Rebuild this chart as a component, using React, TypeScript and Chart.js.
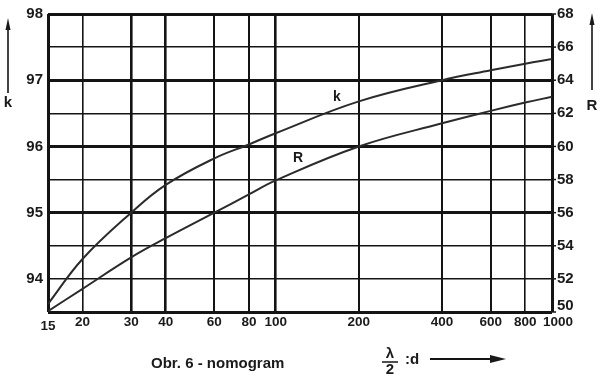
import React, { useEffect, useRef } from "react";
import { Chart, registerables } from "chart.js";

Chart.register(...registerables);

const xTicks = [15, 20, 30, 40, 60, 80, 100, 200, 400, 600, 800, 1000];
const xValues = [15, 20, 30, 40, 60, 80, 100, 200, 400, 600, 800, 1000];
const kValues = [93.62, 94.3, 95.0, 95.42, 95.82, 96.03, 96.2, 96.68, 97.0, 97.15, 97.25, 97.32];
const rValues = [50.05, 51.4, 53.3, 54.46, 56.0, 57.1, 57.95, 60.0, 61.4, 62.15, 62.65, 63.0];
const kTickLabels = [94, 95, 96, 97, 98];
const rTickLabels = [50, 52, 54, 56, 58, 60, 62, 64, 66, 68];

const FONT = "'Liberation Sans', Arial, sans-serif";
const INK = "#141414";

const decorPlugin = {
  id: "decor",
  afterDraw(chart: any) {
    const c = chart.ctx as CanvasRenderingContext2D;
    const xs = chart.scales.x;
    const r = chart.scales.y2;
    c.save();
    c.fillStyle = "#1a1a1a";
    c.strokeStyle = INK;
    // x tick labels
    c.font = `bold 13.5px ${FONT}`;
    c.textAlign = "center";
    c.textBaseline = "middle";
    xTicks.forEach((v) => {
      let px = xs.getPixelForValue(v);
      let py = 322;
      if (v === 15) py = 326;
      if (v === 1000) px += 6;
      c.fillText(String(v), px, py);
    });
    // right tick labels
    c.font = `bold 15px ${FONT}`;
    c.textAlign = "left";
    rTickLabels.forEach((v) => {
      let py = r.getPixelForValue(v);
      if (v === 50) py -= 6;
      c.fillText(String(v), 557, py);
      c.lineWidth = 1.5;
      c.beginPath();
      c.moveTo(552, r.getPixelForValue(v));
      c.lineTo(556, r.getPixelForValue(v));
      c.stroke();
    });
    // vertical arrows + axis letters
    const vArrow = (x: number, tip: number, end: number) => {
      c.lineWidth = 1.6;
      c.beginPath();
      c.moveTo(x, tip + 8);
      c.lineTo(x, end);
      c.stroke();
      c.beginPath();
      c.moveTo(x, tip);
      c.lineTo(x - 2.5, tip + 12);
      c.lineTo(x + 2.5, tip + 12);
      c.closePath();
      c.fill();
    };
    vArrow(8, 18, 93);
    vArrow(592, 13, 90);
    c.font = `bold 15px ${FONT}`;
    c.textAlign = "center";
    c.fillText("k", 8, 103);
    c.fillText("R", 592, 106);
    // curve labels
    c.font = `bold 14px ${FONT}`;
    c.fillText("k", 337, 97);
    c.fillText("R", 298, 158);
    // caption
    c.font = `bold 15px ${FONT}`;
    c.textAlign = "left";
    c.fillText("Obr. 6 - nomogram", 151, 364);
    // lambda / 2 : d
    c.font = `bold 15px ${FONT}`;
    c.textAlign = "center";
    c.fillText("λ", 390, 354);
    c.fillText("2", 390, 370);
    c.lineWidth = 1.5;
    c.beginPath();
    c.moveTo(382, 362);
    c.lineTo(398, 362);
    c.stroke();
    c.textAlign = "left";
    c.fillText(":d", 405, 360);
    c.lineWidth = 2;
    c.beginPath();
    c.moveTo(430, 359);
    c.lineTo(496, 359);
    c.stroke();
    c.beginPath();
    c.moveTo(506, 359);
    c.lineTo(490, 355);
    c.lineTo(490, 363);
    c.closePath();
    c.fill();
    c.restore();
  },
};

export default function App() {
  const ref = useRef<HTMLCanvasElement | null>(null);
  useEffect(() => {
    document.body.style.margin = "0";
    const canvas = ref.current;
    if (!canvas) return;
    const chart = new Chart(canvas, {
      type: "line",
      data: {
        datasets: [
          {
            label: "k",
            data: xValues.map((x, i) => ({ x, y: kValues[i] })),
            yAxisID: "y",
            borderColor: "#2b2b2b",
            borderWidth: 2,
            pointRadius: 0,
            tension: 0.4,
          },
          {
            label: "R",
            data: xValues.map((x, i) => ({ x, y: rValues[i] })),
            yAxisID: "y2",
            borderColor: "#2b2b2b",
            borderWidth: 2,
            pointRadius: 0,
            tension: 0.4,
          },
        ],
      },
      options: {
        animation: false,
        responsive: true,
        maintainAspectRatio: false,
        layout: { padding: { top: 13, left: 0, right: 0, bottom: 0 } },
        plugins: { legend: { display: false }, tooltip: { enabled: false } },
        scales: {
          x: {
            type: "logarithmic",
            min: 15,
            max: 1000,
            afterBuildTicks: (scale: any) => {
              scale.ticks = xTicks.map((v) => ({ value: v }));
            },
            afterFit: (scale: any) => {
              scale.height = 67;
            },
            border: { display: false },
            grid: {
              color: INK,
              drawTicks: false,
              lineWidth: (ctx: any) => {
                const v = ctx.tick ? ctx.tick.value : 0;
                if (v === 15 || v === 1000) return 3;
                if (v === 30 || v === 40 || v === 100) return 2.6;
                if (v === 800 || v === 20) return 1.6;
                return 2;
              },
            },
            ticks: { display: false, autoSkip: false },
          },
          y: {
            position: "left",
            min: 93.5,
            max: 98,
            afterFit: (scale: any) => {
              scale.width = 48;
            },
            border: { display: false },
            grid: {
              color: INK,
              drawTicks: false,
              lineWidth: (ctx: any) => {
                const v = ctx.tick ? ctx.tick.value : 0;
                if (v === 93.5 || v === 98) return 3;
                if (v === 95 || v === 96 || v === 97) return 3;
                return 1.6;
              },
            },
            ticks: {
              stepSize: 0.5,
              padding: 5,
              color: "#1a1a1a",
              font: { family: FONT, size: 15, weight: "bold" },
              callback: (v: any) => (kTickLabels.includes(Number(v)) ? String(v) : ""),
            },
          },
          y2: {
            position: "right",
            min: 50,
            max: 68,
            afterFit: (scale: any) => {
              scale.width = 53;
            },
            border: { display: false },
            grid: { display: false },
            ticks: { display: false, stepSize: 2 },
          },
        },
      },
      plugins: [decorPlugin],
    } as any);
    return () => chart.destroy();
  }, []);
  return (
    <div style={{ position: "relative", width: 605, height: 379, background: "#fff" }}>
      <canvas ref={ref} />
    </div>
  );
}
